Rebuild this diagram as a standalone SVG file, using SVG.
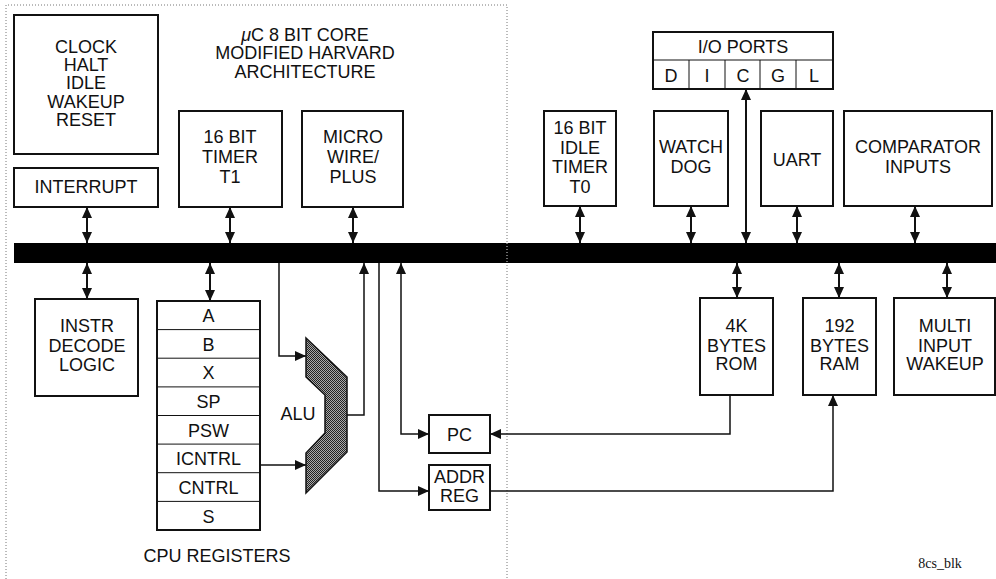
<svg xmlns="http://www.w3.org/2000/svg" width="996" height="579" viewBox="0 0 996 579">
<style>
.box{fill:#fff;stroke:#111;stroke-width:2}
.t{font-family:"Liberation Sans",Arial,sans-serif;font-size:18px;fill:#111;text-anchor:middle}
.c{fill:none;stroke:#111;stroke-width:2}
.c1{fill:none;stroke:#111;stroke-width:1.5}
.sep{stroke:#111;stroke-width:1}
.dot{fill:none;stroke:#777;stroke-width:1;stroke-dasharray:1 2}
</style>
<defs>
<marker id="ah" viewBox="0 0 11 10" refX="11" refY="5" markerWidth="11" markerHeight="10" markerUnits="userSpaceOnUse" orient="auto-start-reverse">
<path d="M0,0 L11,5 L0,10 z" fill="#111"/>
</marker>
<pattern id="hatch" width="2" height="2" patternUnits="userSpaceOnUse">
<rect width="2" height="2" fill="#aaa"/>
<rect width="1" height="1" fill="#222"/>
<rect x="1" y="1" width="1" height="1" fill="#222"/>
</pattern>
</defs>
<rect width="996" height="579" fill="#fff"/>
<g id="border">
<path class="dot" d="M6,579 V5 H507 V579"/>
</g>
<g id="title">
<text class="t" x="305" y="41"><tspan font-style="italic">μ</tspan>C 8 BIT CORE</text>
<text class="t" x="305" y="59">MODIFIED HARVARD</text>
<text class="t" x="305" y="78">ARCHITECTURE</text>
</g>
<g id="bus">
<rect x="14" y="243" width="982" height="20" fill="#000"/>
<line x1="507" y1="243" x2="507" y2="263" stroke="#ddd" stroke-width="1" stroke-dasharray="1 2"/>
</g>
<g id="clock">
<rect class="box" x="14" y="15" width="144" height="139"/>
<text class="t" x="86" y="53">CLOCK</text>
<text class="t" x="86" y="71">HALT</text>
<text class="t" x="86" y="89">IDLE</text>
<text class="t" x="86" y="108">WAKEUP</text>
<text class="t" x="86" y="126">RESET</text>
</g>
<g id="interrupt">
<rect class="box" x="14" y="168" width="144" height="39"/>
<text class="t" x="86" y="193">INTERRUPT</text>
</g>
<g id="timer1">
<rect class="box" x="179" y="111" width="103" height="96"/>
<text class="t" x="230" y="143">16 BIT</text>
<text class="t" x="230" y="163">TIMER</text>
<text class="t" x="230" y="183">T1</text>
</g>
<g id="microwire">
<rect class="box" x="302" y="111" width="101" height="96"/>
<text class="t" x="353" y="143">MICRO</text>
<text class="t" x="353" y="163">WIRE/</text>
<text class="t" x="353" y="183">PLUS</text>
</g>
<g id="ioports">
<rect class="box" x="653" y="32" width="180" height="57"/>
<line class="sep" x1="653" y1="60" x2="833" y2="60" stroke-width="2"/>
<line class="sep" x1="689" y1="60" x2="689" y2="89" stroke-width="2"/>
<line class="sep" x1="725" y1="60" x2="725" y2="89" stroke-width="2"/>
<line class="sep" x1="760" y1="60" x2="760" y2="89" stroke-width="2"/>
<line class="sep" x1="796" y1="60" x2="796" y2="89" stroke-width="2"/>
<text class="t" x="743" y="53">I/O PORTS</text>
<text class="t" x="671" y="82">D</text>
<text class="t" x="707" y="82">I</text>
<text class="t" x="743" y="82">C</text>
<text class="t" x="778" y="82">G</text>
<text class="t" x="814" y="82">L</text>
</g>
<g id="timer0">
<rect class="box" x="544" y="111" width="72" height="95"/>
<text class="t" x="580" y="134">16 BIT</text>
<text class="t" x="580" y="154">IDLE</text>
<text class="t" x="580" y="173">TIMER</text>
<text class="t" x="580" y="193">T0</text>
</g>
<g id="watchdog">
<rect class="box" x="654" y="111" width="74" height="95"/>
<text class="t" x="691" y="153">WATCH</text>
<text class="t" x="691" y="173">DOG</text>
</g>
<g id="uart">
<rect class="box" x="761" y="111" width="72" height="95"/>
<text class="t" x="797" y="166">UART</text>
</g>
<g id="comparator">
<rect class="box" x="844" y="111" width="148" height="95"/>
<text class="t" x="918" y="153">COMPARATOR</text>
<text class="t" x="918" y="173">INPUTS</text>
</g>
<g id="instr">
<rect class="box" x="35" y="299" width="103" height="97"/>
<text class="t" x="87" y="332">INSTR</text>
<text class="t" x="87" y="352">DECODE</text>
<text class="t" x="87" y="371">LOGIC</text>
</g>
<g id="registers">
<rect class="box" x="157" y="301" width="103" height="229"/>
<line class="sep" x1="157" y1="329.6" x2="260" y2="329.6"/>
<line class="sep" x1="157" y1="358.2" x2="260" y2="358.2"/>
<line class="sep" x1="157" y1="386.9" x2="260" y2="386.9"/>
<line class="sep" x1="157" y1="415.5" x2="260" y2="415.5"/>
<line class="sep" x1="157" y1="444.1" x2="260" y2="444.1"/>
<line class="sep" x1="157" y1="472.7" x2="260" y2="472.7" stroke-width="2"/>
<line class="sep" x1="157" y1="501.4" x2="260" y2="501.4"/>
<text class="t" x="208.5" y="322">A</text>
<text class="t" x="208.5" y="350.5">B</text>
<text class="t" x="208.5" y="379">X</text>
<text class="t" x="208.5" y="408">SP</text>
<text class="t" x="208.5" y="436.5">PSW</text>
<text class="t" x="208.5" y="465">ICNTRL</text>
<text class="t" x="208.5" y="494">CNTRL</text>
<text class="t" x="208.5" y="522.5">S</text>
<text class="t" x="217" y="562">CPU REGISTERS</text>
</g>
<g id="alu">
<polygon points="306,338 347,377 347,452 306,493 306,453 325,433 325,395 306,377" fill="url(#hatch)" stroke="#111" stroke-width="1.5"/>
<text class="t" x="298" y="420">ALU</text>
</g>
<g id="pc">
<rect class="box" x="429" y="415" width="61" height="38"/>
<text class="t" x="459.5" y="441">PC</text>
</g>
<g id="addrreg">
<rect class="box" x="429" y="465" width="61" height="45"/>
<text class="t" x="459.5" y="483">ADDR</text>
<text class="t" x="459.5" y="502">REG</text>
</g>
<g id="rom">
<rect class="box" x="700" y="298" width="73" height="97"/>
<text class="t" x="736.5" y="332">4K</text>
<text class="t" x="736.5" y="352">BYTES</text>
<text class="t" x="736.5" y="370">ROM</text>
</g>
<g id="ram">
<rect class="box" x="803" y="298" width="73" height="97"/>
<text class="t" x="839.5" y="332">192</text>
<text class="t" x="839.5" y="352">BYTES</text>
<text class="t" x="839.5" y="370">RAM</text>
</g>
<g id="multi">
<rect class="box" x="894" y="298" width="101" height="97"/>
<text class="t" x="945" y="332">MULTI</text>
<text class="t" x="945" y="352">INPUT</text>
<text class="t" x="945" y="370">WAKEUP</text>
</g>
<g id="label">
<text x="940" y="568" font-family="'Liberation Serif','Times New Roman',serif" font-size="14" fill="#111" text-anchor="middle">8cs_blk</text>
</g>
<g id="connectors">
<path class="c" d="M87,207 V243" marker-start="url(#ah)" marker-end="url(#ah)"/>
<path class="c" d="M230,207 V243" marker-start="url(#ah)" marker-end="url(#ah)"/>
<path class="c" d="M353,207 V243" marker-start="url(#ah)" marker-end="url(#ah)"/>
<path class="c" d="M580,206 V243" marker-start="url(#ah)" marker-end="url(#ah)"/>
<path class="c" d="M691,206 V243" marker-start="url(#ah)" marker-end="url(#ah)"/>
<path class="c" d="M746,89 V243" marker-start="url(#ah)" marker-end="url(#ah)"/>
<path class="c" d="M797,206 V243" marker-start="url(#ah)" marker-end="url(#ah)"/>
<path class="c" d="M915,206 V243" marker-start="url(#ah)" marker-end="url(#ah)"/>
<path class="c" d="M87,263 V299" marker-start="url(#ah)" marker-end="url(#ah)"/>
<path class="c" d="M210,263 V301" marker-start="url(#ah)" marker-end="url(#ah)"/>
<path class="c" d="M737,263 V298" marker-start="url(#ah)" marker-end="url(#ah)"/>
<path class="c" d="M839,263 V298" marker-start="url(#ah)" marker-end="url(#ah)"/>
<path class="c" d="M947,263 V298" marker-start="url(#ah)" marker-end="url(#ah)"/>
<path class="c1" d="M279,263 V356 H306" marker-end="url(#ah)"/>
<path class="c1" d="M260,465 H306" marker-end="url(#ah)"/>
<path class="c1" d="M347,415 H364 V263" marker-end="url(#ah)"/>
<path class="c1" d="M379,263 V491 H429" marker-end="url(#ah)"/>
<path class="c1" d="M401,263 V434 H429" marker-start="url(#ah)" marker-end="url(#ah)"/>
<path class="c1" d="M730,395 V434 H490" marker-end="url(#ah)"/>
<path class="c1" d="M490,491 H833 V395" marker-end="url(#ah)"/>
</g>
</svg>
